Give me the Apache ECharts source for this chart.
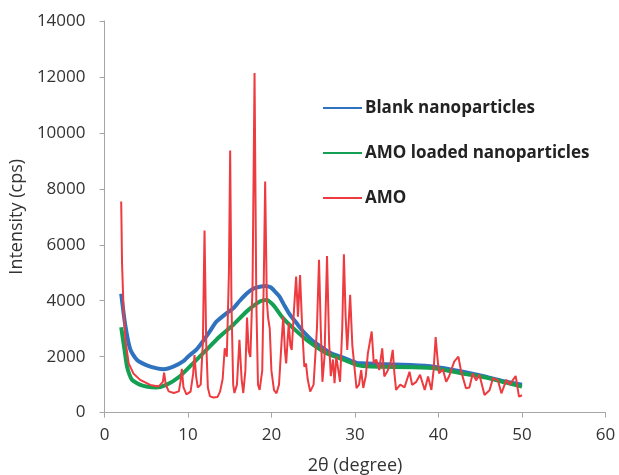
<!DOCTYPE html>
<html>
<head>
<meta charset="utf-8">
<script src="https://cdn.jsdelivr.net/npm/echarts@6/dist/echarts.min.js"></script>
<style>html,body{margin:0;padding:0;background:#fff}#c{width:619px;height:475px}</style>
</head>
<body>
<div id="c"></div>
<script>
var seriesNames = ['Blank nanoparticles', 'AMO loaded nanoparticles', 'AMO'];

var blankData = [[2.0,4250],[2.5,3100],[3.1,2250],[3.9,1880],[5.0,1700],[6.3,1580],[7.1,1550],[8.3,1650],[9.5,1850],[10.0,2000],[11.0,2250],[11.9,2600],[12.6,2900],[13.4,3250],[14.6,3550],[15.5,3750],[16.2,4000],[17.0,4250],[17.8,4430],[18.6,4500],[19.2,4530],[19.9,4480],[20.5,4300],[21.0,4130],[21.6,3800],[22.2,3500],[23.0,3200],[23.8,2900],[24.8,2600],[25.3,2480],[26.8,2180],[27.3,2100],[28.8,1940],[30.2,1780],[30.8,1760],[32.7,1740],[36.7,1700],[39.5,1640],[42.6,1480],[45.4,1300],[47.8,1120],[50.0,1000]];

var loadedData = [[2.0,3050],[2.4,2240],[2.7,1640],[3.0,1350],[3.3,1170],[3.8,1070],[4.3,990],[5.0,930],[6.2,900],[7.4,990],[9.0,1290],[10.6,1760],[12.2,2240],[13.8,2720],[15.4,3130],[17.0,3610],[18.6,3970],[19.4,4030],[20.2,3850],[21.4,3370],[22.6,3020],[24.2,2600],[26.6,2120],[29.0,1850],[30.3,1700],[30.9,1670],[32.9,1640],[36.9,1620],[39.7,1580],[42.9,1400],[45.7,1250],[48.1,1070],[50.0,930]];

var amoData = [[2.0,7550],[2.1,5340],[2.3,3550],[2.5,2600],[2.9,1760],[3.46,1400],[4.27,1170],[5.47,990],[6.47,930],[6.99,1100],[7.14,1430],[7.34,1000],[7.69,760],[8.3,700],[8.9,760],[9.1,1100],[9.26,1560],[9.46,900],[9.81,650],[10.31,750],[10.62,1400],[10.78,2060],[10.97,1300],[11.17,900],[11.52,1000],[11.78,2500],[11.98,6510],[12.18,2500],[12.38,900],[12.63,580],[13.04,540],[13.54,560],[13.84,750],[14.15,1200],[14.4,2300],[14.65,2000],[14.9,5000],[15.05,9370],[15.2,4000],[15.41,1000],[15.56,700],[15.86,1000],[16.16,2600],[16.42,1200],[16.62,700],[16.87,1500],[17.07,3400],[17.27,2200],[17.47,1990],[17.73,4500],[17.97,12140],[18.18,4000],[18.38,1000],[18.58,810],[18.89,1500],[19.09,5000],[19.24,8260],[19.44,4000],[19.59,3400],[19.79,3000],[19.99,1500],[20.3,800],[20.6,690],[20.9,1000],[21.2,2500],[21.41,3430],[21.61,2200],[21.76,1760],[21.91,2500],[22.07,3200],[22.26,2400],[22.42,2240],[22.72,3800],[22.95,4860],[23.17,3430],[23.42,4920],[23.68,3000],[23.93,1640],[24.13,1760],[24.33,1200],[24.63,750],[25.04,1000],[25.44,3000],[25.69,5460],[25.9,3000],[26.1,1100],[26.35,2000],[26.65,5600],[26.9,2500],[27.1,1300],[27.36,1900],[27.55,1050],[27.76,2000],[28.01,1500],[28.21,1100],[28.47,3000],[28.67,5660],[28.87,3500],[29.07,2240],[29.42,4210],[29.68,2400],[29.88,1800],[30.18,870],[30.48,1000],[30.74,1520],[30.99,880],[31.29,1300],[31.54,2120],[32.0,2900],[32.25,1760],[32.55,1900],[32.9,1520],[33.26,2300],[33.51,1290],[33.91,1500],[34.21,1700],[34.52,2240],[34.72,1400],[34.92,810],[35.42,1000],[35.93,900],[36.53,1460],[36.84,990],[37.34,1100],[37.79,1350],[38.35,810],[38.75,1290],[39.15,810],[39.41,1500],[39.66,2700],[39.86,2000],[40.06,1400],[40.52,1550],[40.92,1100],[41.27,1300],[41.88,1820],[42.38,2000],[42.69,1500],[43.29,870],[43.7,900],[44.1,1400],[44.5,1150],[44.9,1350],[45.51,630],[46.11,800],[46.52,1230],[47.12,1150],[47.53,690],[48.13,1170],[48.53,1000],[49.24,1310],[49.64,570],[50.0,620]];

var colors = ['#2f72bd', '#13a052', '#ee3b40'];
var axisGray = '#a6a6a6';
var fontFam = 'Open Sans';

var chart = echarts.init(document.getElementById('c'));
chart.setOption({
  animation: false,
  backgroundColor: '#fff',
  grid: { left: 104.5, right: 13.5, top: 21, bottom: 62.4, containLabel: false, outerBoundsMode: 'none' },
  legend: {
    orient: 'vertical', left: 323, top: 99.5, padding: 0,
    icon: 'rect', itemWidth: 39, itemHeight: 2, itemGap: 28,
    textStyle: { fontFamily: fontFam, fontWeight: 'bold', fontSize: 17, color: '#222', padding: [0, 0, 0, -2] },
    data: seriesNames.map(function (n, i) { return { name: n, itemStyle: { color: colors[i] } }; })
  },
  xAxis: {
    type: 'value', min: 0, max: 60, interval: 10,
    name: '2θ (degree)', nameLocation: 'middle', nameGap: 44,
    nameTextStyle: { fontFamily: fontFam, fontSize: 18, color: '#333' },
    axisLine: { show: true, lineStyle: { color: axisGray, width: 1 } },
    axisTick: { show: true, length: 5, lineStyle: { color: axisGray } },
    axisLabel: { fontFamily: fontFam, fontSize: 17, color: '#333', margin: 14 },
    splitLine: { show: false }
  },
  yAxis: {
    type: 'value', min: 0, max: 14000, interval: 2000,
    name: 'Intensity (cps)', nameLocation: 'middle', nameGap: 76,
    nameTextStyle: { fontFamily: fontFam, fontSize: 18, color: '#333' },
    axisLine: { show: true, lineStyle: { color: axisGray, width: 1 } },
    axisTick: { show: true, length: 5, lineStyle: { color: axisGray } },
    axisLabel: { fontFamily: fontFam, fontSize: 17, color: '#333', margin: 19, formatter: function (v) { return String(v); } },
    splitLine: { show: false }
  },
  series: [
    { name: seriesNames[0], type: 'line', data: blankData, symbol: 'none', smooth: 0.2, lineStyle: { width: 4, color: colors[0] }, itemStyle: { color: colors[0] } },
    { name: seriesNames[1], type: 'line', data: loadedData, symbol: 'none', smooth: 0.2, lineStyle: { width: 4, color: colors[1] }, itemStyle: { color: colors[1] } },
    { name: seriesNames[2], type: 'line', data: amoData, symbol: 'none', lineStyle: { width: 2, color: colors[2] }, itemStyle: { color: colors[2] } }
  ]
});
</script>
</body>
</html>
